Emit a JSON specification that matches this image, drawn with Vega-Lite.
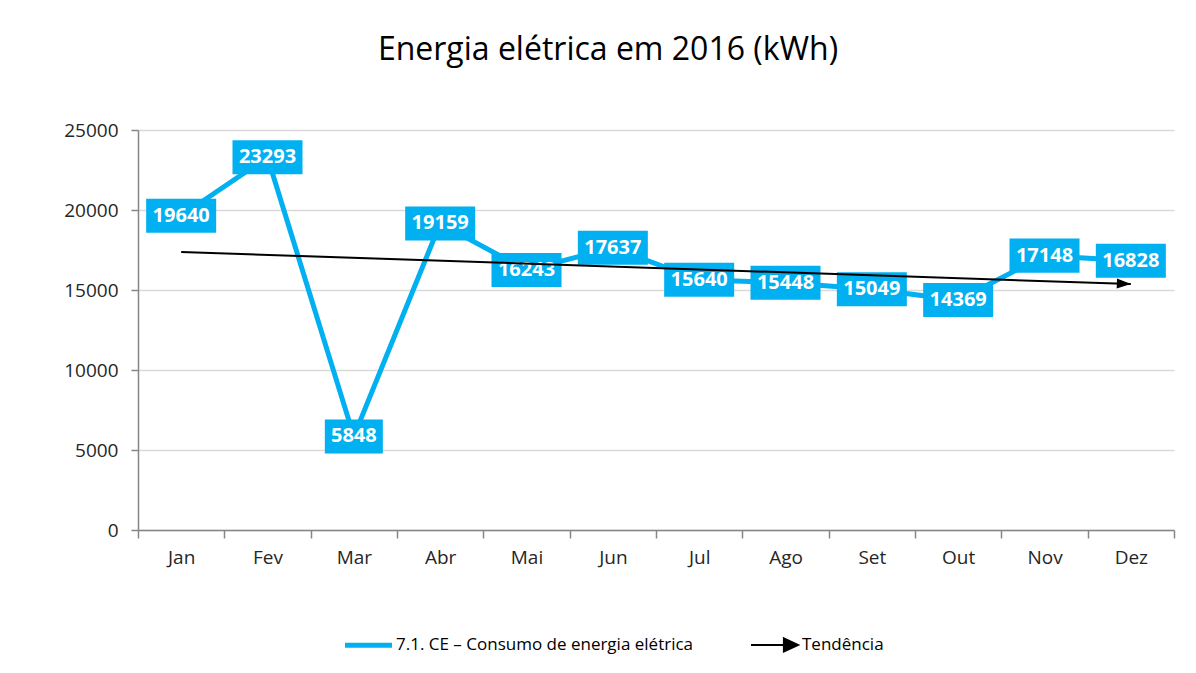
{
  "$schema": "https://vega.github.io/schema/vega-lite/v6.json",
  "autosize": "none",
  "width": 1036,
  "height": 400,
  "padding": {"left": 138, "top": 130, "right": 22, "bottom": 143},
  "background": "white",
  "title": {
    "text": "Energia elétrica em 2016 (kWh)",
    "font": "Open Sans",
    "fontSize": 32,
    "fontWeight": "normal",
    "color": "#000000",
    "anchor": "middle",
    "frame": "group",
    "dx": -48,
    "offset": 54
  },
  "datasets": {
    "consumo": [
      {"m": "Jan", "v": 19640},
      {"m": "Fev", "v": 23293},
      {"m": "Mar", "v": 5848},
      {"m": "Abr", "v": 19159},
      {"m": "Mai", "v": 16243},
      {"m": "Jun", "v": 17637},
      {"m": "Jul", "v": 15640},
      {"m": "Ago", "v": 15448},
      {"m": "Set", "v": 15049},
      {"m": "Out", "v": 14369},
      {"m": "Nov", "v": 17148},
      {"m": "Dez", "v": 16828}
    ],
    "trend": [
      {"m": "Jan", "t": 17375},
      {"m": "Dez", "t": 15375}
    ]
  },
  "config": {
    "view": {"stroke": null},
    "font": "Open Sans",
    "axis": {
      "labelFont": "Open Sans",
      "labelFontSize": 19,
      "labelColor": "#262626",
      "domainColor": "#868686",
      "tickColor": "#868686",
      "domainWidth": 1.5,
      "tickWidth": 1.5,
      "title": null
    }
  },
  "layer": [
    {
      "data": {"name": "consumo"},
      "mark": {"type": "line", "strokeWidth": 5, "strokeJoin": "miter"},
      "encoding": {
        "x": {
          "field": "m",
          "type": "nominal",
          "scale": {
            "domain": ["Jan", "Fev", "Mar", "Abr", "Mai", "Jun", "Jul", "Ago", "Set", "Out", "Nov", "Dez"],
            "paddingInner": 0,
            "paddingOuter": 0
          },
          "axis": {
            "labelAngle": 0,
            "tickBand": "extent",
            "tickSize": 8,
            "labelPadding": 10,
            "grid": false
          }
        },
        "y": {
          "field": "v",
          "type": "quantitative",
          "scale": {"domain": [0, 25000], "nice": false},
          "axis": {
            "values": [0, 5000, 10000, 15000, 20000, 25000],
            "format": "d",
            "tickSize": 7,
            "labelPadding": 13,
            "grid": true,
            "gridColor": "#d9d9d9",
            "gridWidth": 1.5
          }
        },
        "color": {
          "datum": "7.1. CE – Consumo de energia elétrica",
          "scale": {
            "domain": ["7.1. CE – Consumo de energia elétrica", "Tendência"],
            "range": ["#00B0F0", "#000000"]
          },
          "legend": {
            "title": null,
            "orient": "none",
            "legendX": 222,
            "legendY": 506,
            "direction": "horizontal",
            "columns": 2,
            "columnPadding": 53,
            "symbolType": "stroke",
            "symbolSize": 2209,
            "symbolStrokeWidth": 5,
            "labelFont": "Open Sans",
            "labelFontSize": 17,
            "labelColor": "#000000",
            "labelLimit": 500,
            "labelOffset": 19,
            "encode": {
              "symbols": {
                "update": {
                  "shape": {"signal": "datum.value === 'Tendência' ? 'M-1,0 L0.45,0 M0.4,-0.28 L1,0 L0.4,0.28 Z' : 'stroke'"},
                  "strokeWidth": {"signal": "datum.value === 'Tendência' ? 2 : 5"},
                  "fill": {"signal": "datum.value === 'Tendência' ? '#000000' : 'transparent'"},
                  "stroke": {"signal": "datum.value === 'Tendência' ? '#000000' : '#00B0F0'"}
                }
              }
            }
          }
        }
      }
    },
    {
      "data": {"name": "consumo"},
      "mark": {"type": "point", "filled": true, "opacity": 1, "color": "#00B0F0", "strokeWidth": 0, "size": 4900},
      "encoding": {
        "x": {"field": "m", "type": "nominal"},
        "y": {"field": "v", "type": "quantitative"},
        "shape": {
          "condition": {"test": "datum.v < 10000", "value": "M-0.829,-0.486 L0.829,-0.486 L0.829,0.486 L-0.829,0.486 Z"},
          "value": "M-1,-0.486 L1,-0.486 L1,0.486 L-1,0.486 Z"
        }
      }
    },
    {
      "data": {"name": "consumo"},
      "mark": {"type": "text", "color": "#ffffff", "font": "Open Sans", "fontSize": 20, "fontWeight": "bold", "baseline": "middle", "align": "center"},
      "encoding": {
        "x": {"field": "m", "type": "nominal"},
        "y": {"field": "v", "type": "quantitative"},
        "text": {"field": "v", "type": "quantitative", "format": "d"}
      }
    },
    {
      "data": {"name": "trend"},
      "mark": {"type": "line", "strokeWidth": 2},
      "encoding": {
        "x": {"field": "m", "type": "nominal"},
        "y": {"field": "t", "type": "quantitative"},
        "color": {"datum": "Tendência"}
      }
    },
    {
      "data": {"name": "trend"},
      "transform": [{"filter": "datum.m === 'Dez'"}],
      "mark": {"type": "point", "filled": true, "opacity": 1, "color": "#000000", "strokeWidth": 0, "size": 784, "angle": 2, "shape": "M0,0 L-1,-0.36 L-1,0.36 Z"},
      "encoding": {
        "x": {"field": "m", "type": "nominal"},
        "y": {"field": "t", "type": "quantitative"}
      }
    }
  ]
}
